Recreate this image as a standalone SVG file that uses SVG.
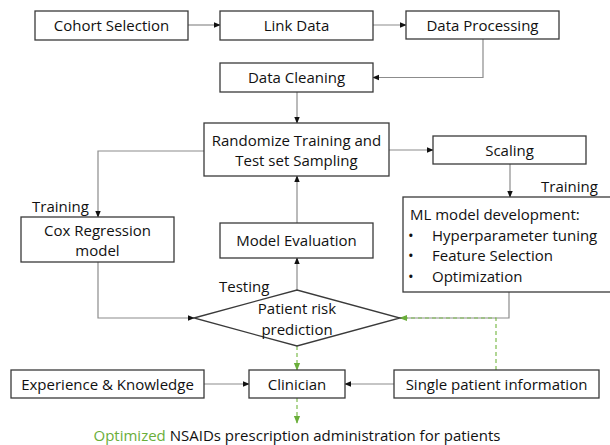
<svg xmlns="http://www.w3.org/2000/svg" width="610" height="445" viewBox="0 0 610 445">
<defs>
<style>
.box{fill:#fff;stroke:#3a3a3a;stroke-width:1.3}
.t{font-family:"Open Sans","Noto Sans",sans-serif;font-size:15px;fill:#111;text-anchor:middle}
.tl{font-family:"Open Sans","Noto Sans",sans-serif;font-size:15px;fill:#111}
.c{fill:none;stroke:#8c8c8c;stroke-width:1.2}
.g{fill:none;stroke:#7dbb4e;stroke-width:1.2;stroke-dasharray:4,3}
</style>
<marker id="a" viewBox="0 0 10 10" refX="9" refY="5" markerWidth="7" markerHeight="7" orient="auto" markerUnits="userSpaceOnUse"><path d="M0,1 L10,5 L0,9 z" fill="#111"/></marker>
<marker id="ag" viewBox="0 0 10 10" refX="9" refY="5" markerWidth="8" markerHeight="8" orient="auto" markerUnits="userSpaceOnUse"><path d="M0,1 L10,5 L0,9 z" fill="#6aae3a"/></marker>
</defs>
<rect width="610" height="445" fill="#fff"/>
<g id="connectors">
<path class="c" d="M188,25 H220" marker-end="url(#a)"/>
<path class="c" d="M373,25 H406" marker-end="url(#a)"/>
<path class="c" d="M483,39 V77.5 H373" marker-end="url(#a)"/>
<path class="c" d="M297,92 V123" marker-end="url(#a)"/>
<path class="c" d="M389,150 H433" marker-end="url(#a)"/>
<path class="c" d="M510,164 V197" marker-end="url(#a)"/>
<path class="c" d="M204,151 H98 V217" marker-end="url(#a)"/>
<path class="c" d="M98,262 V318 H194" marker-end="url(#a)"/>
<path class="c" d="M297,290 V258" marker-end="url(#a)"/>
<path class="c" d="M297,223 V176" marker-end="url(#a)"/>
<path class="c" d="M509,292 V318 H400"/>
<path class="g" d="M496,370 V318 H400" marker-end="url(#ag)"/>
<path class="g" d="M297,346 V370" marker-end="url(#ag)"/>
<path class="c" d="M204,384 H249" marker-end="url(#a)"/>
<path class="c" d="M394,384 H345" marker-end="url(#a)"/>
<path class="g" d="M297,398 V423" marker-end="url(#ag)"/>
</g>
<g id="cohort"><rect class="box" x="35" y="11" width="153" height="29"/><text class="t" x="111.5" y="31">Cohort Selection</text></g>
<g id="link"><rect class="box" x="220" y="11" width="153" height="29"/><text class="t" x="296.5" y="31">Link Data</text></g>
<g id="processing"><rect class="box" x="406" y="11" width="153" height="28"/><text class="t" x="482.5" y="31">Data Processing</text></g>
<g id="cleaning"><rect class="box" x="220" y="63" width="153" height="29"/><text class="t" x="296.5" y="83">Data Cleaning</text></g>
<g id="randomize"><rect class="box" x="204" y="123" width="185" height="53"/><text class="t" x="296.5" y="146">Randomize Training and</text><text class="t" x="296.5" y="166">Test set Sampling</text></g>
<g id="scaling"><rect class="box" x="433" y="136" width="153" height="28"/><text class="t" x="509.5" y="156">Scaling</text></g>
<g id="ml"><rect class="box" x="403" y="197" width="212" height="95"/>
<text class="tl" x="410" y="220">ML model development:</text>
<text class="tl" x="408" y="241">•</text><text class="tl" x="432" y="241">Hyperparameter tuning</text>
<text class="tl" x="408" y="261">•</text><text class="tl" x="432" y="261">Feature Selection</text>
<text class="tl" x="408" y="282">•</text><text class="tl" x="432" y="282">Optimization</text></g>
<g id="training-ml"><text class="tl" x="541" y="192">Training</text></g>
<g id="training-cox"><text class="tl" x="32" y="212">Training</text></g>
<g id="cox"><rect class="box" x="21" y="217" width="153" height="45"/><text class="t" x="97.5" y="236">Cox Regression</text><text class="t" x="97.5" y="256">model</text></g>
<g id="evaluation"><rect class="box" x="220" y="223" width="153" height="35"/><text class="t" x="296.5" y="246">Model Evaluation</text></g>
<g id="testing"><text class="tl" x="219" y="292">Testing</text></g>
<g id="prediction"><path class="box" d="M194,318 L297,290 L400,318 L297,346 Z"/><text class="t" x="297" y="314">Patient risk</text><text class="t" x="297" y="335">prediction</text></g>
<g id="experience"><rect class="box" x="11" y="370" width="193" height="28"/><text class="t" x="107.5" y="390">Experience &amp; Knowledge</text></g>
<g id="clinician"><rect class="box" x="249" y="370" width="96" height="28"/><text class="t" x="297" y="390">Clinician</text></g>
<g id="single"><rect class="box" x="394" y="370" width="205" height="28"/><text class="t" x="496.5" y="390">Single patient information</text></g>
<g id="output"><text class="t" x="297" y="441"><tspan fill="#6aae3a">Optimized</tspan> NSAIDs prescription administration for patients</text></g>
</svg>
